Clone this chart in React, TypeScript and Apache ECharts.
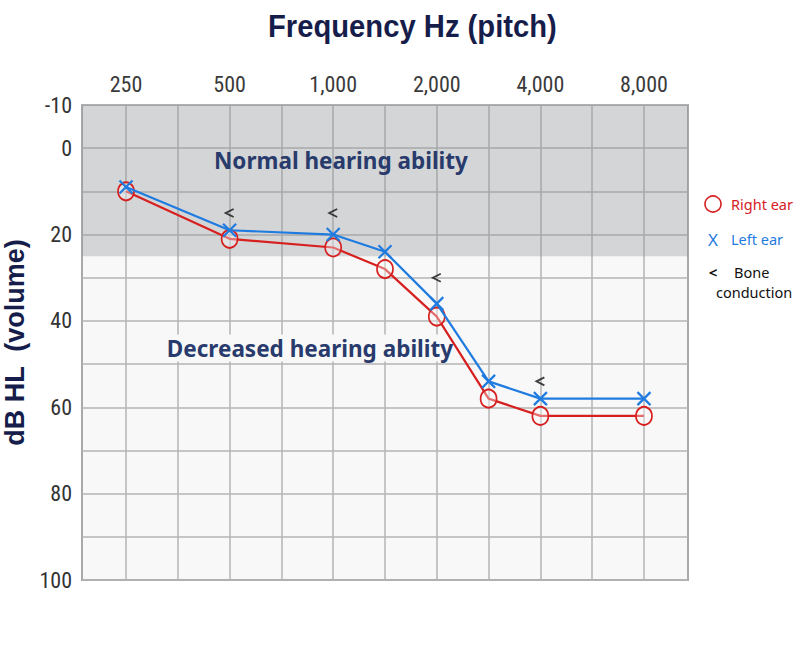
import React, { useEffect, useRef } from "react";
import * as echarts from "echarts";

// x slots on the audiogram grid (one grid column per slot)
const freqSlots = [1, 3, 5, 6, 7, 8, 9, 11]; // 250, 500, 1000, 1500, 2000, 3000, 4000, 8000 Hz
const gridSlots = [1, 2, 3, 4, 5, 6, 7, 8, 9, 10, 11];
const tickSlots = [1, 3, 5, 7, 9, 11];
const tickLabels = ["250", "500", "1,000", "2,000", "4,000", "8,000"];
const yTickLabels = [-10, 0, 20, 40, 60, 80, 100];

const rightEar = [10, 21, 23, 28, 39, 58, 62, 62];
const leftEar = [9, 19, 20, 24, 36, 54, 58, 58];
const boneSlots = [3, 5, 7, 9];
const boneValues = [15, 15, 30, 54];
const normalBand = [-10, 25];

const RED = "#d6201f";
const BLUE = "#1f7be0";
const NAVY = "#161d4b";
const TEXTNAVY = "#283b6c";
const NARROW = "'Liberation Sans Narrow', 'Roboto Condensed', 'DejaVu Sans Condensed', sans-serif";
const SANS = "'Liberation Sans', Arial, sans-serif";

export default function App() {
  const ref = useRef<HTMLDivElement>(null);
  useEffect(() => {
    if (!ref.current) return;
    const chart = echarts.init(ref.current, null, { renderer: "svg" });
    const option: any = {
      animation: false,
      backgroundColor: "#ffffff",
      grid: {
        left: 82,
        right: 112,
        top: 105,
        bottom: 69,
        containLabel: false,
        outerBoundsMode: "none",
        show: true,
        backgroundColor: "#f8f8f8",
        borderColor: "#a9a9a9",
        borderWidth: 2,
      },
      xAxis: {
        type: "value",
        position: "top",
        min: 0.15,
        max: 11.85,
        axisLine: { show: false },
        axisTick: { show: false, customValues: gridSlots },
        axisLabel: {
          customValues: tickSlots,
          formatter: (v: number) => {
            const i = tickSlots.indexOf(Math.round(v));
            return i >= 0 ? tickLabels[i] : "";
          },
          fontSize: 22,
          color: "#3a3a3a",
          fontFamily: NARROW,
          margin: 10,
        },
        splitLine: { show: true, lineStyle: { color: "#b5b5b5", width: 1.5 } },
      },
      yAxis: {
        type: "value",
        inverse: true,
        min: -10,
        max: 100,
        interval: 10,
        axisLine: { show: false },
        axisTick: { show: false },
        axisLabel: {
          formatter: (v: number) => (yTickLabels.indexOf(v) >= 0 ? String(v) : ""),
          fontSize: 22,
          color: "#333",
          fontFamily: NARROW,
          margin: 10,
        },
        splitLine: { show: true, lineStyle: { color: "#b5b5b5", width: 1.5 } },
        name: "dB HL  (volume)",
        nameLocation: "middle",
        nameRotate: 90,
        nameGap: 52,
        nameTextStyle: { fontSize: 27, fontWeight: "bold", color: NAVY, fontFamily: SANS },
      },
      series: [
        {
          type: "line",
          name: "Right ear",
          data: freqSlots.map((x, i) => [x, rightEar[i]]),
          symbol: "circle",
          symbolSize: [16, 18],
          itemStyle: { color: "rgba(255,255,255,0.35)", borderColor: RED, borderWidth: 1.8 },
          lineStyle: { color: RED, width: 2.2 },
          z: 3,
          markArea: {
            silent: true,
            itemStyle: { color: "rgba(140,142,148,0.33)" },
            data: [[{ yAxis: normalBand[0] }, { yAxis: normalBand[1] }]],
          },
        },
        {
          type: "line",
          name: "Left ear",
          data: freqSlots.map((x, i) => [x, leftEar[i]]),
          symbol: "path://M0,0L10,10M10,0L0,10",
          symbolSize: 13,
          itemStyle: { color: "none", borderColor: BLUE, borderWidth: 2.2 },
          lineStyle: { color: BLUE, width: 2.2 },
          z: 4,
        },
        {
          type: "scatter",
          name: "Bone conduction",
          data: boneSlots.map((x, i) => [x, boneValues[i]]),
          symbol: "path://M10,0L0,5L10,10",
          symbolSize: [8, 8],
          itemStyle: { color: "none", borderColor: "#111", borderWidth: 1.8 },
          z: 5,
        },
      ],
      graphic: [
        {
          type: "text",
          x: 268,
          y: 26,
          scaleX: 0.913,
          style: { text: "Frequency Hz (pitch)", font: `bold 32px ${SANS}`, fill: NAVY, verticalAlign: "middle" },
        },
        {
          type: "text",
          x: 341,
          y: 160,
          z: 10,
          style: {
            text: "Normal hearing ability",
            font: "bold 22.5px 'Noto Sans', sans-serif",
            fill: TEXTNAVY,
            align: "center",
            verticalAlign: "middle",
          },
        },
        {
          type: "text",
          x: 310,
          y: 348,
          z: 1,
          style: {
            text: "Decreased hearing ability",
            font: "bold 22.5px 'Noto Sans', sans-serif",
            fill: TEXTNAVY,
            align: "center",
            verticalAlign: "middle",
            backgroundColor: "#f8f8f8",
            padding: [2, 8],
          },
        },
        { type: "circle", shape: { cx: 713, cy: 204, r: 8 }, style: { fill: "none", stroke: RED, lineWidth: 1.6 } },
        { type: "text", x: 731, y: 204, style: { text: "Right ear", font: "14.5px 'Noto Sans', sans-serif", fill: RED, verticalAlign: "middle" } },
        { type: "text", x: 713, y: 239, style: { text: "X", font: "17px 'Noto Sans', sans-serif", fill: BLUE, align: "center", verticalAlign: "middle" } },
        { type: "text", x: 731, y: 239, style: { text: "Left ear", font: "14.5px 'Noto Sans', sans-serif", fill: BLUE, verticalAlign: "middle" } },
        { type: "text", x: 713, y: 272, style: { text: "<", font: "bold 15px 'Noto Sans', sans-serif", fill: "#111", align: "center", verticalAlign: "middle" } },
        { type: "text", x: 734, y: 272, style: { text: "Bone", font: "14.5px 'Noto Sans', sans-serif", fill: "#111", verticalAlign: "middle" } },
        { type: "text", x: 716, y: 292, style: { text: "conduction", font: "14.5px 'Noto Sans', sans-serif", fill: "#111", verticalAlign: "middle" } },
      ],
    };
    chart.setOption(option);
    return () => chart.dispose();
  }, []);
  return <div ref={ref} style={{ position: "fixed", left: 0, top: 0, width: 800, height: 649 }} />;
}
